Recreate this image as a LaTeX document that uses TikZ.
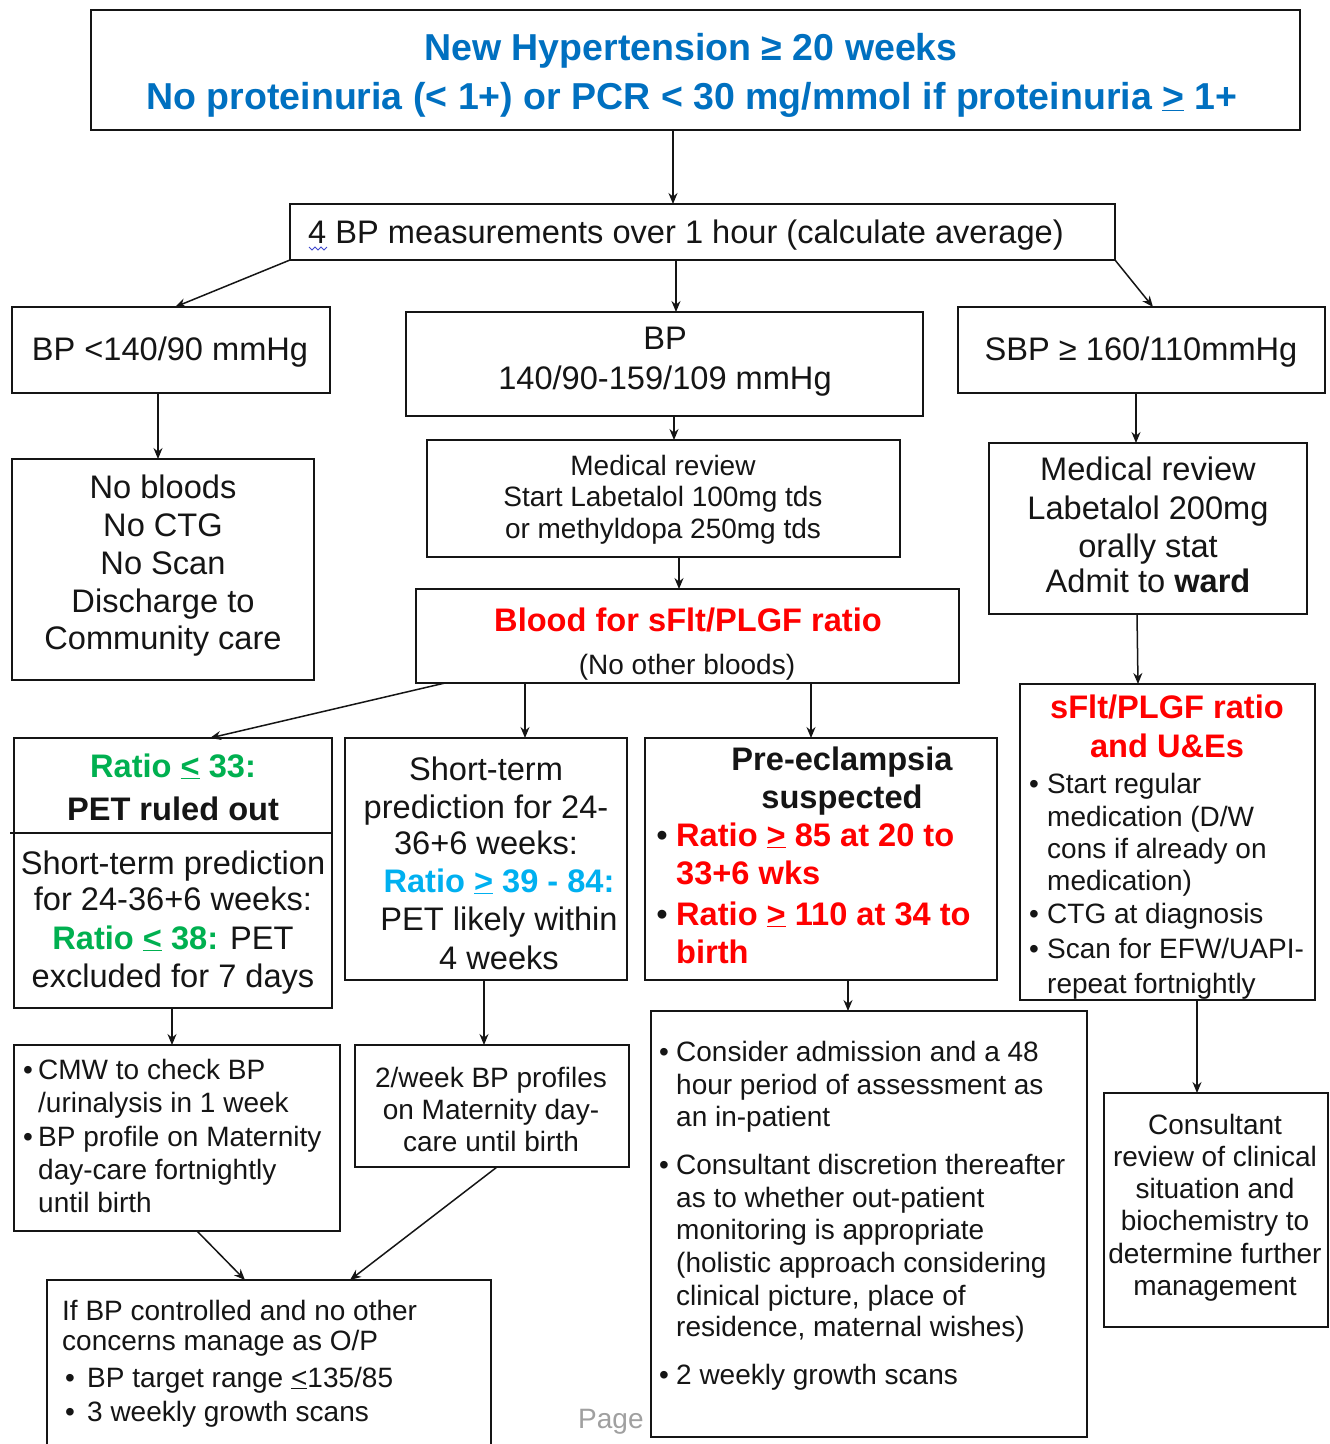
\documentclass[tikz,border=0pt]{standalone}
\usepackage{fontspec}
\setmainfont{Liberation Sans}
\usetikzlibrary{arrows.meta}

\definecolor{ink}{HTML}{151515}
\definecolor{tblue}{HTML}{0070C0}
\definecolor{tred}{HTML}{FF0000}
\definecolor{tgreen}{HTML}{00B050}
\definecolor{lblue}{HTML}{00B0F0}
\definecolor{pgrey}{HTML}{A0A0A0}
\definecolor{spellblue}{HTML}{3F48CC}

% font sizes (1pt = 1 unit of the picture grid)
\newcommand\Lg{\fontsize{32.6}{38}\selectfont}
\newcommand\Sm{\fontsize{28}{33}\selectfont}
\newcommand\Ti{\fontsize{37.5}{49}\selectfont\bfseries}

% underlined comparison signs as typed in the flowchart
\newcommand\gtu{\underline{>}}
\newcommand\ltu{\underline{<}}

% box given by its corners (x1,y1)--(x2,y2), y measured downwards
\newcommand\bx[5]{\node[box,minimum width={(#4)-(#2)},minimum height={(#5)-(#3)}] (#1) at ({((#2)+(#4))/2},{((#3)+(#5))/2}) {};}

% one line of text placed on its baseline
\newcounter{lnum}
\newcommand\tx[4][]{\stepcounter{lnum}\edef\lname{ln\arabic{lnum}}\node[tline,#1] (\lname) at (#2,#3) {#4};}

\begin{document}
\begin{tikzpicture}[x=1pt,y=-1pt,
  box/.style={draw=ink,line width=1.8pt,rectangle,inner sep=0pt,outer sep=0pt},
  arr/.style={draw=ink,line width=1.5pt,-{Stealth[length=11pt,width=9pt]}},
  tline/.style={anchor=base,inner sep=0pt,text=ink,font=\Lg},
  lft/.style={anchor=base west},
  bul/.style={anchor=base},
  spell/.style={draw=spellblue,line width=1pt}]

\clip (0,0) rectangle (1330,1444);
\fill[white] (0,0) rectangle (1330,1444);

% ---------- boxes ----------
\bx{title}{91}{10}{1300}{130}
\bx{bpm}{290}{204}{1115}{260}
\bx{low}{12}{307}{330}{393}
\bx{mid}{406}{312}{923}{416}
\bx{high}{958}{307}{1325}{393}
\bx{nob}{12}{459}{314}{680}
\bx{medr}{427}{440}{900}{557}
\bx{blood}{416}{589}{959}{683}
\bx{hmed}{989}{443}{1307}{614}
\bx{hsflt}{1020}{684}{1315}{1000}
\bx{rlow}{14}{738}{332}{1008}
\bx{rmid}{345}{738}{627}{980}
\bx{pe}{645}{738}{997}{980}
\bx{cmw}{14}{1045}{340}{1231}
\bx{twow}{355}{1045}{629}{1167}
\bx{adm}{651}{1011}{1087}{1437}
\bx{cons}{1104}{1093}{1328}{1327}
\bx{op}{47}{1280}{491}{1480}

% divider inside the "ratio <= 33" box
\draw[draw=ink,line width=1.8pt] (10,833) -- (332,833);

% ---------- connectors ----------
\draw[arr] ([xshift=582pt]title.south west) -- ([xshift=383pt]bpm.north west);
\draw[arr] (bpm.south west) -- ([xshift=163pt]low.north west);
\draw[arr] ([xshift=386pt]bpm.south west) -- ([xshift=270pt]mid.north west);
\draw[arr] (bpm.south east) -- ([xshift=195pt]high.north west);
\draw[arr] ([xshift=146pt]low.south west) -- ([xshift=146pt]nob.north west);
\draw[arr] ([xshift=268pt]mid.south west) -- ([xshift=247pt]medr.north west);
\draw[arr] ([xshift=252pt]medr.south west) -- ([xshift=263pt]blood.north west);
\draw[arr] ([xshift=178pt]high.south west) -- ([xshift=147pt]hmed.north west);
\draw[arr] ([xshift=148pt]hmed.south west) -- ([xshift=118pt]hsflt.north west);
\draw[arr] ([xshift=29pt]blood.south west) -- ([xshift=196pt]rlow.north west);
\draw[arr] ([xshift=109pt]blood.south west) -- ([xshift=180pt]rmid.north west);
\draw[arr] ([xshift=395pt]blood.south west) -- ([xshift=166pt]pe.north west);
\draw[arr] ([xshift=158pt]rlow.south west) -- ([xshift=158pt]cmw.north west);
\draw[arr] ([xshift=139pt]rmid.south west) -- ([xshift=129pt]twow.north west);
\draw[arr] ([xshift=203pt]pe.south west) -- ([xshift=197pt]adm.north west);
\draw[arr] ([xshift=177pt]hsflt.south west) -- ([xshift=93pt]cons.north west);
\draw[arr] ([xshift=183pt]cmw.south west) -- ([xshift=198pt]op.north west);
\draw[arr] ([xshift=142pt]twow.south west) -- ([xshift=303pt]op.north west);

% ---------- texts ----------
% heading
\tx[font=\Ti,text=tblue]{691}{60}{New Hypertension ≥ 20 weeks}
\tx[font=\Ti,text=tblue]{692}{109}{No proteinuria (< 1+) or PCR < 30 mg/mmol if proteinuria \gtu{} 1+}

% measurements
\tx[lft]{308}{243}{4 BP measurements over 1 hour (calculate average)}
\draw[spell] (309,247) -- ++(3,3) -- ++(3,-3) -- ++(3,3) -- ++(3,-3) -- ++(3,3) -- ++(3,-3);

% three BP bands
\tx{170}{360}{BP <140/90 mmHg}
\tx{665}{349}{BP}
\tx{665}{389}{140/90-159/109 mmHg}
\tx{1141}{360}{SBP ≥ 160/110mmHg}

% normal BP branch
\tx{163}{498}{No bloods}
\tx{163}{536}{No CTG}
\tx{163}{574}{No Scan}
\tx{163}{612}{Discharge to}
\tx{163}{649}{Community care}

% moderate branch
\tx[font=\Sm]{663}{475}{Medical review}
\tx[font=\Sm]{663}{506}{Start Labetalol 100mg tds}
\tx[font=\Sm]{663}{538}{or methyldopa 250mg tds}

\tx[font=\Lg\bfseries,text=tred]{688}{631}{Blood for sFlt/PLGF ratio}
\tx[font=\Sm]{687}{674}{(No other bloods)}

% severe branch
\tx{1148}{480}{Medical review}
\tx{1148}{519}{Labetalol 200mg}
\tx{1148}{557}{orally stat}
\tx{1148}{592}{Admit to \textbf{ward}}

\tx[font=\Lg\bfseries,text=tred]{1167}{718}{sFlt/PLGF ratio}
\tx[font=\Lg\bfseries,text=tred]{1167}{757}{and U\&Es}
\tx[font=\Sm,bul]{1034}{793}{•}
\tx[font=\Sm,lft]{1047}{793}{Start regular}
\tx[font=\Sm,lft]{1047}{826}{medication (D/W}
\tx[font=\Sm,lft]{1047}{858}{cons if already on}
\tx[font=\Sm,lft]{1047}{890}{medication)}
\tx[font=\Sm,bul]{1034}{923}{•}
\tx[font=\Sm,lft]{1047}{923}{CTG at diagnosis}
\tx[font=\Sm,bul]{1034}{958}{•}
\tx[font=\Sm,lft]{1047}{958}{Scan for EFW/UAPI-}
\tx[font=\Sm,lft]{1047}{993}{repeat fortnightly}

% ratio outcomes
\tx[font=\Lg\bfseries,text=tgreen]{173}{777}{Ratio \ltu{} 33:}
\tx[font=\Lg\bfseries]{173}{820}{PET ruled out}
\tx{173}{874}{Short-term prediction}
\tx{173}{910}{for 24-36+6 weeks:}
\tx{173}{949}{{\color{tgreen}\bfseries Ratio \ltu{} 38:} PET}
\tx{173}{987}{excluded for 7 days}

\tx{486}{780}{Short-term}
\tx{486}{818}{prediction for 24-}
\tx{486}{854}{36+6 weeks:}
\tx[font=\Lg\bfseries,text=lblue]{499}{892}{Ratio \gtu{} 39 - 84:}
\tx{499}{930}{PET likely within}
\tx{499}{969}{4 weeks}

\tx[font=\Lg\bfseries]{842}{770}{Pre-eclampsia}
\tx[font=\Lg\bfseries]{842}{808}{suspected}
\tx[bul]{662}{846}{•}
\tx[lft,font=\Lg\bfseries,text=tred]{676}{846}{Ratio \gtu{} 85 at 20 to}
\tx[lft,font=\Lg\bfseries,text=tred]{676}{884}{33+6 wks}
\tx[bul]{662}{925}{•}
\tx[lft,font=\Lg\bfseries,text=tred]{676}{925}{Ratio \gtu{} 110 at 34 to}
\tx[lft,font=\Lg\bfseries,text=tred]{676}{963}{birth}

% follow-up
\tx[font=\Sm,bul]{28}{1079}{•}
\tx[font=\Sm,lft]{38}{1079}{CMW to check BP}
\tx[font=\Sm,lft]{38}{1112}{/urinalysis in 1 week}
\tx[font=\Sm,bul]{28}{1146}{•}
\tx[font=\Sm,lft]{38}{1146}{BP profile on Maternity}
\tx[font=\Sm,lft]{38}{1179}{day-care fortnightly}
\tx[font=\Sm,lft]{38}{1212}{until birth}

\tx[font=\Sm]{491}{1087}{2/week BP profiles}
\tx[font=\Sm]{491}{1119}{on Maternity day-}
\tx[font=\Sm]{491}{1151}{care until birth}

\tx[font=\Sm,bul]{664}{1061}{•}
\tx[font=\Sm,lft]{676}{1061}{Consider admission and a 48}
\tx[font=\Sm,lft]{676}{1094}{hour period of assessment as}
\tx[font=\Sm,lft]{676}{1126}{an in-patient}
\tx[font=\Sm,bul]{664}{1174}{•}
\tx[font=\Sm,lft]{676}{1174}{Consultant discretion thereafter}
\tx[font=\Sm,lft]{676}{1207}{as to whether out-patient}
\tx[font=\Sm,lft]{676}{1239}{monitoring is appropriate}
\tx[font=\Sm,lft]{676}{1272}{(holistic approach considering}
\tx[font=\Sm,lft]{676}{1305}{clinical picture, place of}
\tx[font=\Sm,lft]{676}{1336}{residence, maternal wishes)}
\tx[font=\Sm,bul]{664}{1384}{•}
\tx[font=\Sm,lft]{676}{1384}{2 weekly growth scans}

\tx[font=\Sm]{1215}{1134}{Consultant}
\tx[font=\Sm]{1215}{1166}{review of clinical}
\tx[font=\Sm]{1215}{1198}{situation and}
\tx[font=\Sm]{1215}{1230}{biochemistry to}
\tx[font=\Sm]{1215}{1263}{determine further}
\tx[font=\Sm]{1215}{1295}{management}

\tx[font=\Sm,lft]{62}{1320}{If BP controlled and no other}
\tx[font=\Sm,lft]{62}{1350}{concerns manage as O/P}
\tx[font=\Sm,bul]{70}{1387}{•}
\tx[font=\Sm,lft]{87}{1387}{BP target range \ltu{}135/85}
\tx[font=\Sm,bul]{70}{1421}{•}
\tx[font=\Sm,lft]{87}{1421}{3 weekly growth scans}

\tx[font=\Sm,lft,text=pgrey]{578}{1428}{Page}
\end{tikzpicture}
\end{document}
